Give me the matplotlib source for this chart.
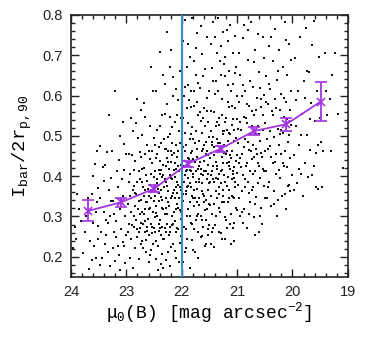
import numpy as np
import matplotlib
matplotlib.use("Agg")
import matplotlib.pyplot as plt
from matplotlib.ticker import MultipleLocator

# ============================================================
# Bar length vs central surface brightness (hand-read points)
# ============================================================

# binned means with error bars
bin_mu = [23.69, 23.10, 22.50, 21.89, 21.30, 20.69, 20.11, 19.49]
bin_ratio = [0.314, 0.335, 0.369, 0.431, 0.468, 0.512, 0.529, 0.585]
bin_err = [0.026, 0.011, 0.008, 0.007, 0.007, 0.010, 0.016, 0.048]

mu_cut = 22.0

# scatter points, read strip by strip (mu, ratio)
dots_24_235 = [
    (23.96, 0.222), (23.91, 0.245), (23.67, 0.170), (23.48, 0.180), (23.82, 0.290), (23.75, 0.262),
    (23.61, 0.285), (23.55, 0.312), (23.52, 0.245), (23.58, 0.228), (23.70, 0.345), (23.63, 0.356),
    (23.52, 0.371), (23.86, 0.318), (23.78, 0.210), (23.55, 0.198), (23.51, 0.276), (23.60, 0.400),
    (23.53, 0.462), (23.57, 0.430), (23.89, 0.355), (23.66, 0.240), (23.73, 0.301), (23.54, 0.335),
    (23.62, 0.192), (23.93, 0.275),
]
dots_235_23 = [
    (23.20, 0.612), (23.47, 0.475), (23.38, 0.427), (23.43, 0.424), (23.12, 0.500), (23.05, 0.480),
    (23.32, 0.365), (23.28, 0.338), (23.41, 0.310), (23.18, 0.290), (23.09, 0.270), (23.36, 0.255),
    (23.25, 0.222), (23.14, 0.205), (23.02, 0.185), (23.44, 0.198), (23.30, 0.178), (23.22, 0.305),
    (23.11, 0.318), (23.06, 0.352), (23.16, 0.372), (23.27, 0.395), (23.04, 0.415), (23.13, 0.440),
    (23.35, 0.460), (23.01, 0.455), (23.23, 0.262), (23.33, 0.283), (23.07, 0.237), (23.19, 0.248),
    (23.46, 0.262), (23.39, 0.233), (23.10, 0.342), (23.03, 0.300), (23.29, 0.302), (23.15, 0.227),
    (23.24, 0.338), (23.48, 0.345), (23.08, 0.392), (23.17, 0.412), (23.00, 0.255), (23.34, 0.212),
    (23.21, 0.190), (23.12, 0.168), (23.05, 0.228), (23.26, 0.462), (23.31, 0.552), (23.06, 0.535),
    (23.40, 0.388), (23.37, 0.292),
]
dots_23_225 = [
    (22.97, 0.330), (22.95, 0.282), (22.93, 0.405), (22.91, 0.245), (22.89, 0.365), (22.88, 0.512),
    (22.86, 0.300), (22.85, 0.222), (22.84, 0.438), (22.82, 0.355), (22.81, 0.268), (22.80, 0.592),
    (22.79, 0.318), (22.77, 0.195), (22.76, 0.392), (22.75, 0.460), (22.74, 0.285), (22.73, 0.342),
    (22.72, 0.238), (22.71, 0.502), (22.70, 0.372), (22.69, 0.305), (22.68, 0.420), (22.67, 0.262),
    (22.66, 0.548), (22.65, 0.335), (22.64, 0.212), (22.63, 0.388), (22.62, 0.478), (22.61, 0.295),
    (22.60, 0.352), (22.59, 0.255), (22.58, 0.442), (22.57, 0.322), (22.56, 0.672), (22.55, 0.405),
    (22.54, 0.275), (22.53, 0.365), (22.52, 0.232), (22.51, 0.495),
    (22.98, 0.262), (22.96, 0.385), (22.94, 0.198), (22.92, 0.312), (22.90, 0.452), (22.87, 0.275),
    (22.86, 0.375), (22.83, 0.292), (22.82, 0.532), (22.80, 0.248), (22.78, 0.412), (22.77, 0.338),
    (22.75, 0.272), (22.74, 0.565), (22.72, 0.385), (22.71, 0.312), (22.70, 0.222), (22.68, 0.352),
    (22.67, 0.455), (22.66, 0.288), (22.64, 0.402), (22.63, 0.265), (22.61, 0.368), (22.60, 0.188),
    (22.59, 0.318), (22.58, 0.525), (22.56, 0.282), (22.55, 0.345), (22.54, 0.432), (22.53, 0.258),
    (22.52, 0.612), (22.51, 0.338), (22.50, 0.398),
    (22.96, 0.455), (22.93, 0.350), (22.90, 0.278), (22.87, 0.415), (22.84, 0.325), (22.81, 0.385),
    (22.78, 0.262), (22.76, 0.305), (22.73, 0.448), (22.70, 0.282), (22.67, 0.365), (22.65, 0.242),
    (22.62, 0.335), (22.60, 0.462), (22.57, 0.378), (22.55, 0.218), (22.52, 0.312), (22.50, 0.272),
    (22.88, 0.172), (22.79, 0.495), (22.69, 0.582), (22.58, 0.362), (22.53, 0.462), (22.62, 0.275),
    (22.74, 0.232), (22.85, 0.358), (22.92, 0.545), (22.66, 0.318), (22.57, 0.205), (22.71, 0.418),
]
dots_225_22 = [
    (22.49, 0.352), (22.48, 0.262), (22.47, 0.445), (22.46, 0.308), (22.45, 0.515), (22.44, 0.382),
    (22.43, 0.228), (22.42, 0.338), (22.41, 0.472), (22.40, 0.292), (22.39, 0.405), (22.38, 0.182),
    (22.37, 0.365), (22.36, 0.552), (22.35, 0.275), (22.34, 0.428), (22.33, 0.318), (22.32, 0.245),
    (22.31, 0.392), (22.30, 0.628), (22.29, 0.345), (22.28, 0.468), (22.27, 0.282), (22.26, 0.375),
    (22.25, 0.212), (22.24, 0.435), (22.23, 0.325), (22.22, 0.505), (22.21, 0.262), (22.20, 0.395),
    (22.19, 0.712), (22.18, 0.302), (22.17, 0.452), (22.16, 0.358), (22.15, 0.232), (22.14, 0.415),
    (22.13, 0.535), (22.12, 0.288), (22.11, 0.372), (22.10, 0.198), (22.09, 0.448), (22.08, 0.332),
    (22.07, 0.588), (22.06, 0.268), (22.05, 0.412), (22.04, 0.315), (22.03, 0.482), (22.02, 0.252),
    (22.01, 0.365),
    (22.49, 0.412), (22.47, 0.325), (22.46, 0.238), (22.44, 0.455), (22.43, 0.368), (22.41, 0.282),
    (22.40, 0.525), (22.38, 0.348), (22.37, 0.255), (22.35, 0.398), (22.34, 0.172), (22.32, 0.492),
    (22.31, 0.305), (22.29, 0.262), (22.28, 0.385), (22.26, 0.578), (22.25, 0.335), (22.23, 0.418),
    (22.22, 0.275), (22.20, 0.462), (22.19, 0.225), (22.17, 0.352), (22.16, 0.645), (22.14, 0.312),
    (22.13, 0.398), (22.11, 0.478), (22.10, 0.262), (22.08, 0.385), (22.07, 0.322), (22.05, 0.512),
    (22.04, 0.235), (22.02, 0.428), (22.01, 0.295),
    (22.48, 0.298), (22.45, 0.392), (22.42, 0.265), (22.39, 0.438), (22.36, 0.322), (22.33, 0.402),
    (22.30, 0.272), (22.27, 0.445), (22.24, 0.362), (22.21, 0.548), (22.18, 0.392), (22.15, 0.282),
    (22.12, 0.432), (22.09, 0.358), (22.06, 0.462), (22.03, 0.372), (22.00, 0.405), (22.46, 0.612),
    (22.40, 0.708), (22.34, 0.652), (22.27, 0.758), (22.21, 0.672), (22.15, 0.598), (22.09, 0.552),
    (22.03, 0.662), (22.43, 0.168), (22.36, 0.208), (22.28, 0.192), (22.22, 0.178), (22.12, 0.215),
    (22.05, 0.188), (22.47, 0.195), (22.31, 0.555), (22.24, 0.498), (22.17, 0.522), (22.11, 0.615),
    (22.49, 0.478), (22.44, 0.302), (22.41, 0.358), (22.38, 0.415), (22.35, 0.342), (22.32, 0.372),
    (22.29, 0.425), (22.26, 0.305), (22.23, 0.255), (22.20, 0.345), (22.17, 0.278), (22.14, 0.365),
    (22.11, 0.318), (22.08, 0.272), (22.05, 0.345), (22.02, 0.312), (22.47, 0.372), (22.42, 0.415),
    (22.37, 0.482), (22.33, 0.245), (22.28, 0.322), (22.25, 0.462), (22.21, 0.402), (22.18, 0.482),
    (22.14, 0.458), (22.10, 0.418), (22.06, 0.378), (22.02, 0.545), (22.39, 0.272), (22.30, 0.468),
    (22.19, 0.435), (22.13, 0.345), (22.07, 0.425), (22.00, 0.282),
]
dots_22_215 = [
    (21.99, 0.452), (21.98, 0.338), (21.97, 0.545), (21.96, 0.275), (21.95, 0.402), (21.94, 0.622),
    (21.93, 0.362), (21.92, 0.478), (21.91, 0.245), (21.90, 0.415), (21.89, 0.532), (21.88, 0.318),
    (21.87, 0.442), (21.86, 0.695), (21.85, 0.382), (21.84, 0.285), (21.83, 0.505), (21.82, 0.352),
    (21.81, 0.462), (21.80, 0.218), (21.79, 0.398), (21.78, 0.575), (21.77, 0.325), (21.76, 0.435),
    (21.75, 0.292), (21.74, 0.512), (21.73, 0.368), (21.72, 0.755), (21.71, 0.418), (21.70, 0.262),
    (21.69, 0.488), (21.68, 0.345), (21.67, 0.558), (21.66, 0.405), (21.65, 0.302), (21.64, 0.462),
    (21.63, 0.382), (21.62, 0.648), (21.61, 0.275), (21.60, 0.438), (21.59, 0.352), (21.58, 0.525),
    (21.57, 0.232), (21.56, 0.412), (21.55, 0.318), (21.54, 0.595), (21.53, 0.452), (21.52, 0.365),
    (21.51, 0.278), (21.50, 0.498),
    (21.99, 0.312), (21.97, 0.425), (21.95, 0.508), (21.93, 0.268), (21.91, 0.372), (21.89, 0.445),
    (21.87, 0.588), (21.85, 0.335), (21.83, 0.412), (21.81, 0.282), (21.79, 0.492), (21.77, 0.365),
    (21.75, 0.652), (21.73, 0.448), (21.71, 0.305), (21.69, 0.385), (21.67, 0.435), (21.65, 0.538),
    (21.63, 0.292), (21.61, 0.402), (21.59, 0.478), (21.57, 0.342), (21.55, 0.462), (21.53, 0.255),
    (21.51, 0.382),
    (21.98, 0.472), (21.96, 0.385), (21.94, 0.212), (21.92, 0.355), (21.90, 0.568), (21.88, 0.395),
    (21.86, 0.302), (21.84, 0.458), (21.82, 0.522), (21.80, 0.345), (21.78, 0.268), (21.76, 0.482),
    (21.74, 0.412), (21.72, 0.335), (21.70, 0.552), (21.68, 0.425), (21.66, 0.248), (21.64, 0.362),
    (21.62, 0.468), (21.60, 0.568), (21.58, 0.315), (21.56, 0.485), (21.54, 0.392), (21.52, 0.535),
    (21.50, 0.332),
    (21.98, 0.735), (21.95, 0.788), (21.91, 0.672), (21.88, 0.728), (21.84, 0.612), (21.81, 0.792),
    (21.78, 0.685), (21.74, 0.718), (21.70, 0.632), (21.66, 0.772), (21.63, 0.702), (21.58, 0.665),
    (21.54, 0.745), (21.51, 0.612), (21.97, 0.188), (21.92, 0.222), (21.86, 0.172), (21.82, 0.242),
    (21.76, 0.212), (21.71, 0.198), (21.64, 0.252), (21.58, 0.228), (21.53, 0.268), (21.96, 0.598),
    (21.89, 0.625), (21.83, 0.572), (21.77, 0.612), (21.72, 0.585), (21.67, 0.618), (21.61, 0.545),
    (21.55, 0.562),
    (21.99, 0.392), (21.94, 0.462), (21.90, 0.302), (21.86, 0.415), (21.83, 0.372), (21.79, 0.442),
    (21.75, 0.385), (21.72, 0.468), (21.69, 0.328), (21.65, 0.418), (21.62, 0.355), (21.59, 0.412),
    (21.56, 0.292), (21.52, 0.428), (21.97, 0.355), (21.93, 0.412), (21.89, 0.375), (21.85, 0.492),
    (21.80, 0.405), (21.76, 0.345), (21.73, 0.302), (21.68, 0.392), (21.64, 0.508), (21.60, 0.335),
    (21.57, 0.455), (21.53, 0.405),
]
dots_215_21 = [
    (21.49, 0.445), (21.48, 0.352), (21.47, 0.562), (21.46, 0.412), (21.45, 0.305), (21.44, 0.498),
    (21.43, 0.635), (21.42, 0.385), (21.41, 0.472), (21.40, 0.278), (21.39, 0.525), (21.38, 0.435),
    (21.37, 0.345), (21.36, 0.705), (21.35, 0.462), (21.34, 0.392), (21.33, 0.545), (21.32, 0.322),
    (21.31, 0.482), (21.30, 0.412), (21.29, 0.258), (21.28, 0.592), (21.27, 0.448), (21.26, 0.365),
    (21.25, 0.512), (21.24, 0.678), (21.23, 0.402), (21.22, 0.298), (21.21, 0.535), (21.20, 0.455),
    (21.19, 0.375), (21.18, 0.762), (21.17, 0.488), (21.16, 0.335), (21.15, 0.572), (21.14, 0.425),
    (21.13, 0.282), (21.12, 0.505), (21.11, 0.612), (21.10, 0.392), (21.09, 0.462), (21.08, 0.348),
    (21.07, 0.542), (21.06, 0.238), (21.05, 0.422), (21.04, 0.655), (21.03, 0.372), (21.02, 0.495),
    (21.01, 0.315), (21.00, 0.452),
    (21.49, 0.328), (21.47, 0.402), (21.45, 0.485), (21.43, 0.272), (21.41, 0.558), (21.39, 0.362),
    (21.37, 0.492), (21.35, 0.612), (21.33, 0.405), (21.31, 0.312), (21.29, 0.468), (21.27, 0.552),
    (21.25, 0.352), (21.23, 0.478), (21.21, 0.245), (21.19, 0.432), (21.17, 0.585), (21.15, 0.365),
    (21.13, 0.452), (21.11, 0.305), (21.09, 0.528), (21.07, 0.412), (21.05, 0.345), (21.03, 0.568),
    (21.01, 0.408),
    (21.48, 0.512), (21.46, 0.262), (21.44, 0.392), (21.42, 0.452), (21.40, 0.605), (21.38, 0.302),
    (21.36, 0.418), (21.34, 0.482), (21.32, 0.372), (21.30, 0.652), (21.28, 0.335), (21.26, 0.432),
    (21.24, 0.512), (21.22, 0.385), (21.20, 0.292), (21.18, 0.462), (21.16, 0.625), (21.14, 0.345),
    (21.12, 0.418), (21.10, 0.575), (21.08, 0.272), (21.06, 0.488), (21.04, 0.385), (21.02, 0.322),
    (21.00, 0.598),
    (21.48, 0.728), (21.44, 0.782), (21.40, 0.745), (21.35, 0.792), (21.30, 0.722), (21.26, 0.758),
    (21.21, 0.695), (21.16, 0.735), (21.12, 0.775), (21.07, 0.705), (21.03, 0.748), (21.47, 0.232),
    (21.41, 0.225), (21.33, 0.262), (21.27, 0.245), (21.19, 0.272), (21.11, 0.232), (21.05, 0.285),
    (21.45, 0.668), (21.38, 0.635), (21.31, 0.685), (21.22, 0.648), (21.14, 0.662), (21.08, 0.628),
    (21.02, 0.672),
    (21.49, 0.385), (21.46, 0.478), (21.43, 0.425), (21.39, 0.395), (21.36, 0.535), (21.33, 0.355),
    (21.29, 0.382), (21.26, 0.505), (21.23, 0.335), (21.20, 0.545), (21.17, 0.398), (21.14, 0.508),
    (21.11, 0.445), (21.08, 0.405), (21.05, 0.515), (21.02, 0.438), (21.47, 0.458), (21.42, 0.332),
    (21.37, 0.425), (21.32, 0.528), (21.28, 0.415), (21.24, 0.458), (21.19, 0.515), (21.15, 0.435),
    (21.10, 0.352), (21.06, 0.395), (21.01, 0.542),
]
dots_21_205 = [
    (20.99, 0.482), (20.98, 0.378), (20.97, 0.585), (20.96, 0.432), (20.95, 0.302), (20.94, 0.652),
    (20.93, 0.515), (20.92, 0.362), (20.91, 0.455), (20.90, 0.742), (20.89, 0.402), (20.88, 0.548),
    (20.87, 0.318), (20.86, 0.492), (20.85, 0.612), (20.84, 0.425), (20.83, 0.272), (20.82, 0.532),
    (20.81, 0.688), (20.80, 0.385), (20.79, 0.465), (20.78, 0.575), (20.77, 0.335), (20.76, 0.505),
    (20.75, 0.782), (20.74, 0.442), (20.73, 0.365), (20.72, 0.622), (20.71, 0.478), (20.70, 0.298),
    (20.69, 0.552), (20.68, 0.412), (20.67, 0.712), (20.66, 0.468), (20.65, 0.348), (20.64, 0.595),
    (20.63, 0.432), (20.62, 0.525), (20.61, 0.262), (20.60, 0.658), (20.59, 0.395), (20.58, 0.488),
    (20.57, 0.572), (20.56, 0.322), (20.55, 0.448), (20.54, 0.745), (20.53, 0.515), (20.52, 0.375),
    (20.51, 0.602), (20.50, 0.462),
    (20.98, 0.518), (20.96, 0.345), (20.94, 0.445), (20.92, 0.598), (20.90, 0.285), (20.88, 0.472),
    (20.86, 0.392), (20.84, 0.545), (20.82, 0.432), (20.80, 0.762), (20.78, 0.358), (20.76, 0.635),
    (20.74, 0.525), (20.72, 0.405), (20.70, 0.682), (20.68, 0.332), (20.66, 0.565), (20.64, 0.455),
    (20.62, 0.382), (20.60, 0.505), (20.58, 0.302), (20.56, 0.592), (20.54, 0.418), (20.52, 0.692),
    (20.50, 0.345),
    (20.97, 0.705), (20.93, 0.422), (20.89, 0.625), (20.85, 0.372), (20.81, 0.485), (20.77, 0.412),
    (20.73, 0.562), (20.69, 0.448), (20.65, 0.505), (20.61, 0.425), (20.57, 0.458), (20.53, 0.552),
    (20.95, 0.535), (20.91, 0.312), (20.87, 0.775), (20.83, 0.578), (20.79, 0.305), (20.75, 0.462),
    (20.71, 0.372), (20.67, 0.255), (20.63, 0.752), (20.59, 0.618), (20.55, 0.282), (20.51, 0.412),
]
dots_205_20 = [
    (20.49, 0.532), (20.48, 0.412), (20.47, 0.648), (20.46, 0.345), (20.45, 0.578), (20.44, 0.468),
    (20.43, 0.722), (20.42, 0.385), (20.41, 0.512), (20.40, 0.615), (20.39, 0.448), (20.38, 0.325),
    (20.37, 0.562), (20.36, 0.685), (20.35, 0.432), (20.34, 0.498), (20.33, 0.362), (20.32, 0.592),
    (20.31, 0.765), (20.30, 0.455), (20.29, 0.405), (20.28, 0.638), (20.27, 0.518), (20.26, 0.342),
    (20.25, 0.478), (20.24, 0.712), (20.23, 0.565), (20.22, 0.395), (20.21, 0.455), (20.20, 0.605),
    (20.19, 0.352), (20.18, 0.508), (20.17, 0.672), (20.16, 0.425), (20.15, 0.548), (20.14, 0.782),
    (20.13, 0.462), (20.12, 0.318), (20.11, 0.585), (20.10, 0.422), (20.09, 0.652), (20.08, 0.375),
    (20.07, 0.502), (20.06, 0.728), (20.05, 0.445), (20.04, 0.362), (20.03, 0.612), (20.02, 0.528),
    (20.01, 0.402),
    (20.48, 0.585), (20.44, 0.372), (20.40, 0.475), (20.36, 0.552), (20.32, 0.435), (20.28, 0.302),
    (20.24, 0.415), (20.20, 0.515), (20.16, 0.595), (20.12, 0.738), (20.08, 0.485), (20.04, 0.565),
    (20.46, 0.492), (20.42, 0.628), (20.38, 0.745), (20.34, 0.332), (20.30, 0.568), (20.26, 0.662),
    (20.22, 0.505), (20.18, 0.432), (20.14, 0.355), (20.10, 0.542), (20.06, 0.378), (20.02, 0.688),
]
dots_20_19 = [
    (19.98, 0.452), (19.96, 0.692), (19.94, 0.525), (19.92, 0.382), (19.90, 0.612), (19.88, 0.478),
    (19.86, 0.745), (19.84, 0.405), (19.82, 0.555), (19.80, 0.635), (19.78, 0.432), (19.76, 0.768),
    (19.74, 0.502), (19.72, 0.398), (19.70, 0.658), (19.68, 0.465), (19.66, 0.582), (19.64, 0.725),
    (19.62, 0.425), (19.60, 0.538), (19.58, 0.372), (19.56, 0.612), (19.54, 0.478), (19.52, 0.695),
    (19.50, 0.545), (19.97, 0.365), (19.93, 0.588), (19.89, 0.418), (19.85, 0.502), (19.81, 0.352),
    (19.77, 0.595), (19.73, 0.662), (19.69, 0.542), (19.65, 0.402), (19.61, 0.785), (19.57, 0.458),
    (19.53, 0.368),
    (19.48, 0.485), (19.45, 0.462), (19.42, 0.705), (19.38, 0.552), (19.33, 0.592), (19.28, 0.652),
    (19.23, 0.705), (19.18, 0.555), (19.09, 0.420), (19.46, 0.372), (19.40, 0.612), (19.30, 0.462),
]

all_dots = (dots_24_235 + dots_235_23 + dots_23_225 + dots_225_22 + dots_22_215
            + dots_215_21 + dots_21_205 + dots_205_20 + dots_20_19)
dot_mu = np.array([p[0] for p in all_dots])
dot_ratio = np.array([p[1] for p in all_dots])

# =========================
# Plotting
# =========================
plt.rcParams["font.family"] = ["Liberation Sans", "DejaVu Sans"]
plt.rcParams["mathtext.fontset"] = "custom"
plt.rcParams["mathtext.rm"] = "Liberation Mono"
plt.rcParams["mathtext.it"] = "Liberation Mono"

fig = plt.figure(figsize=(3.74, 3.39), dpi=100)
ax = fig.add_axes([0.19, 0.183, 0.74, 0.773])

ax.scatter(dot_mu, dot_ratio, s=2.0, marker="s", color="#111111", linewidths=0, zorder=2)

ax.axvline(mu_cut, color="#3d8fc6", linewidth=1.6, zorder=3)

purple = "#a235e0"
ax.errorbar(bin_mu, bin_ratio, yerr=bin_err, color=purple, marker="x", markersize=6,
            markeredgewidth=1.2, linewidth=1.3, elinewidth=1.3, capsize=4, capthick=1.3,
            zorder=4)

ax.set_xlim(24, 19)
ax.set_ylim(0.15, 0.8)
ax.xaxis.set_major_locator(MultipleLocator(1))
ax.xaxis.set_minor_locator(MultipleLocator(0.2))
ax.yaxis.set_minor_locator(MultipleLocator(0.02))
ax.set_yticks([0.2, 0.3, 0.4, 0.5, 0.6, 0.7, 0.8])
ax.tick_params(which="both", direction="in", top=True, right=True, labelsize=10.5,
               width=1.0, colors="#222222")
ax.tick_params(which="major", length=6, pad=6)
ax.tick_params(which="minor", length=3)
for sp in ax.spines.values():
    sp.set_linewidth(1.2)
    sp.set_color("#222222")

mono = ["Liberation Mono", "DejaVu Sans Mono"]
ax.set_xlabel(r"$\mu_0$(B) [mag arcsec$^{-2}$]", family=mono, fontsize=13, labelpad=1)
ax.set_ylabel(r"I$_{\mathrm{bar}}$/2r$_{\mathrm{p,90}}$", family=mono, fontsize=13.5, labelpad=6)

fig.savefig("out.png", dpi=100)
plt.close(fig)
